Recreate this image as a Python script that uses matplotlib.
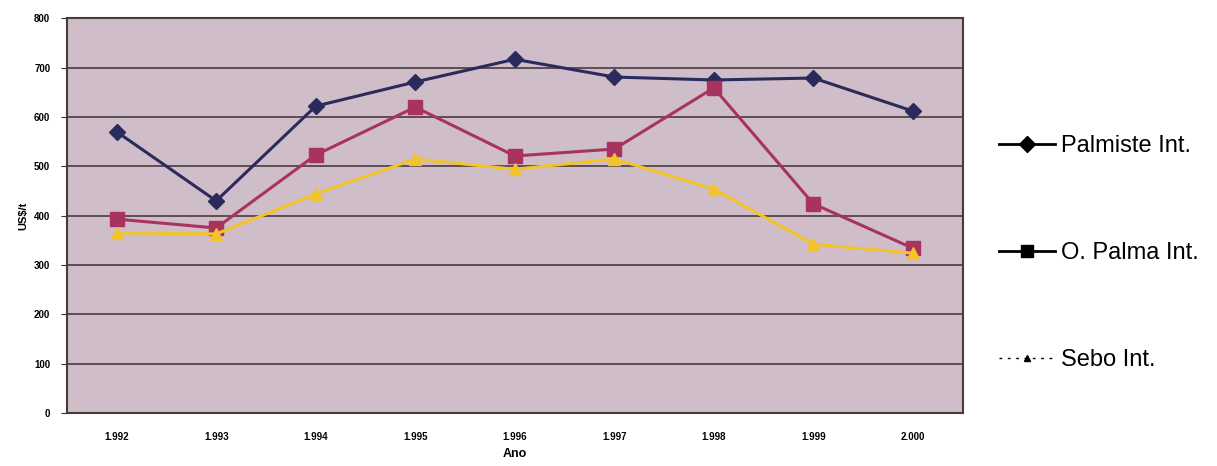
import matplotlib
matplotlib.use("Agg")
import matplotlib.pyplot as plt
from matplotlib.lines import Line2D

years = ["1.992", "1.993", "1.994", "1.995", "1.996", "1.997", "1.998", "1.999", "2.000"]
palmiste = [570, 430, 622, 671, 717, 681, 675, 679, 612]
o_palma = [393, 375, 523, 620, 521, 535, 659, 424, 334]
sebo = [365, 363, 444, 515, 494, 515, 454, 342, 324]
yticks = [0, 100, 200, 300, 400, 500, 600, 700, 800]
series_names = ["Palmiste Int.", "O. Palma Int.", "Sebo Int."]

plt.rcParams['font.family'] = ['Liberation Sans', 'DejaVu Sans']

fig = plt.figure(figsize=(12.17, 4.66), dpi=100)
ax = fig.add_axes([0.055, 0.1137, 0.736, 0.847])
ax.set_facecolor('#cfbec9')

x = list(range(len(years)))
ax.plot(x, palmiste, color='#2b2a5c', lw=2.2, marker='D', ms=8, zorder=3)
ax.plot(x, o_palma, color='#a8335e', lw=2.2, marker='s', ms=10, zorder=4)
ax.plot(x, sebo, color='#f2c42a', lw=2.2, marker='^', ms=9, zorder=5)

ax.set_xlim(-0.5, len(years) - 0.5)
ax.set_ylim(0, 800)
ax.set_yticks(yticks)
ax.set_yticklabels([str(v) for v in yticks], fontsize=7, fontweight='bold')
ax.set_xticks(x)
ax.set_xticklabels(years, fontsize=7, fontweight='bold')
ax.tick_params(axis='x', length=0, pad=14)
ax.tick_params(axis='y', length=4, direction='out', color='#333333', pad=8)
ax.yaxis.grid(True, color='#4a3a3a', lw=1.2)
ax.set_axisbelow(True)
for s in ax.spines.values():
    s.set_color('#4a3a3a')
    s.set_linewidth(1.5)

ax.set_xlabel('Ano', fontsize=9, fontweight='bold', labelpad=4)
ax.set_ylabel('US$/t', fontsize=8, fontweight='bold', labelpad=4)

handles = [
    Line2D([], [], color='black', lw=2, marker='D', ms=8),
    Line2D([], [], color='black', lw=2, marker='s', ms=9),
    Line2D([], [], color='black', lw=1, ls=(0, (2, 4)), marker='^', ms=4),
]
fig.legend(handles, series_names, loc='upper left', bbox_to_anchor=(0.803, 0.755),
           frameon=False, fontsize=17, handlelength=2.4, handletextpad=0.25,
           labelspacing=3.6)

fig.savefig('out.png', dpi=100)
